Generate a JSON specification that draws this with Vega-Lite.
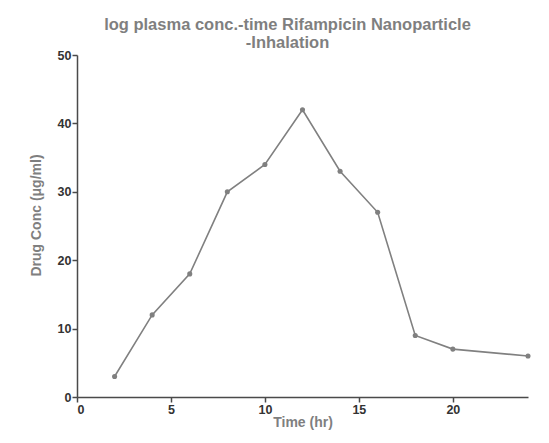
{
  "$schema": "https://vega.github.io/schema/vega-lite/v6.json",
  "autosize": {"type": "none"},
  "padding": {"left": 77, "top": 55, "right": 21, "bottom": 46},
  "width": 451,
  "height": 342,
  "background": "white",
  "title": {
    "text": ["log plasma conc.-time Rifampicin Nanoparticle", "-Inhalation"],
    "font": "Liberation Sans",
    "fontSize": 16.5,
    "fontWeight": "bold",
    "color": "#7f7f7f",
    "lineHeight": 18,
    "anchor": "middle",
    "dx": -15,
    "offset": -2
  },
  "data": {
    "values": [
      {"time": 2, "conc": 3},
      {"time": 4, "conc": 12},
      {"time": 6, "conc": 18},
      {"time": 8, "conc": 30},
      {"time": 10, "conc": 34},
      {"time": 12, "conc": 42},
      {"time": 14, "conc": 33},
      {"time": 16, "conc": 27},
      {"time": 18, "conc": 9},
      {"time": 20, "conc": 7},
      {"time": 24, "conc": 6}
    ]
  },
  "mark": {"type": "line", "color": "#808080", "strokeWidth": 1.6, "point": {"filled": true, "color": "#808080", "size": 26, "opacity": 1}},
  "encoding": {
    "x": {
      "field": "time", "type": "quantitative", "title": "Time (hr)",
      "scale": {"domain": [0, 24], "nice": false, "zero": true},
      "axis": {"values": [0, 5, 10, 15, 20], "grid": false, "titlePadding": 0, "titleFontSize": 14}
    },
    "y": {
      "field": "conc", "type": "quantitative", "title": "Drug Conc (μg/ml)",
      "scale": {"domain": [0, 50], "nice": false},
      "axis": {"values": [0, 10, 20, 30, 40, 50], "grid": false, "titlePadding": 14, "titleFontSize": 14, "titleY": 160}
    }
  },
  "config": {
    "view": {"stroke": null},
    "axis": {
      "domainColor": "#4a4a4a",
      "domainWidth": 1.5,
      "tickColor": "#4a4a4a",
      "tickWidth": 1.5,
      "tickSize": 5,
      "labelFont": "Liberation Sans",
      "labelFontSize": 12.5,
      "labelFontWeight": "bold",
      "labelColor": "#333333",
      "labelPadding": 1,
      "titleFont": "Liberation Sans",
      "titleFontWeight": "bold",
      "titleColor": "#7f7f7f"
    }
  }
}
